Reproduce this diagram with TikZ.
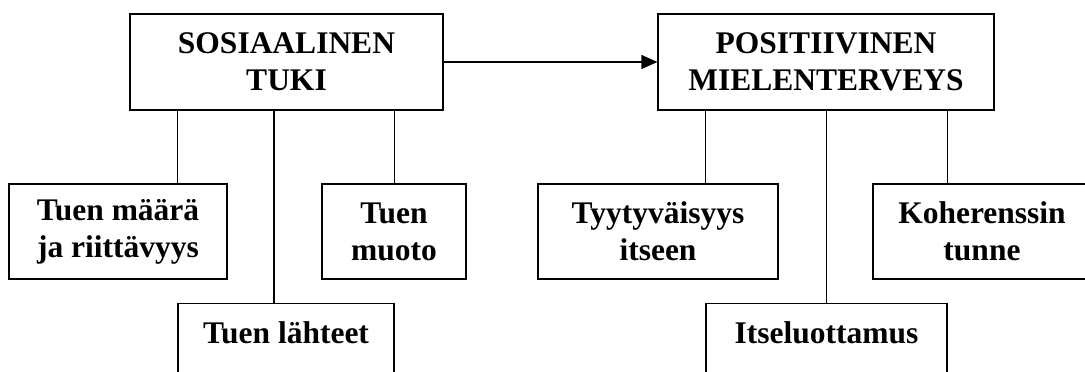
\documentclass[tikz,border=0pt]{standalone}
\usepackage{fontspec}
\setmainfont{Liberation Serif}
\usetikzlibrary{arrows.meta}

\tikzset{
  box/.style={draw, line width=1.2pt, inner sep=0pt, align=center,
    font=\fontsize{31.5}{37}\selectfont\bfseries},
  link/.style={line width=1.2pt},
  leadsto/.style={line width=1.2pt, -{Triangle[length=16pt,width=14pt]}},
  openbox/.style={box, anchor=north, text height=40pt, text depth=60pt}
}

\begin{document}
\begin{tikzpicture}[x=1pt, y=-1pt]
  \useasboundingbox (0,0) rectangle (1085,372);
  \clip (0,0) rectangle (1085,372);

  % main concepts
  \node[box, minimum width=313pt, minimum height=96pt] (sos) at (286.5,62) {SOSIAALINEN\\TUKI};
  \node[box, minimum width=336pt, minimum height=96pt] (pos) at (826,62) {POSITIIVINEN\\MIELENTERVEYS};

  % dimensions of social support
  \node[box, minimum width=218pt, minimum height=95pt] (maara) at (118,231.5) {Tuen määrä\\ja riittävyys};
  \node[box, minimum width=144pt, minimum height=95pt] (muoto) at (394,231.5) {Tuen\\muoto};
  \node[openbox, minimum width=216pt] (lahteet) at (286,303) {Tuen lähteet};

  % dimensions of positive mental health
  \node[box, minimum width=240pt, minimum height=95pt] (tyyt) at (658,231.5) {Tyytyväisyys\\itseen};
  \node[box, minimum width=218pt, minimum height=95pt] (koh) at (982,231.5) {Koherenssin\\tunne};
  \node[openbox, minimum width=241pt] (itse) at (826.5,303) {Itseluottamus};

  % main relation
  \draw[leadsto] (sos.east) -- (pos.west);

  % branches of social support
  \draw[link] (sos.south -| lahteet.west) -- (maara.north -| lahteet.west);
  \draw[link] (sos.south -| lahteet.east) -- (muoto.north -| lahteet.east);
  \draw[link] ([xshift=-12pt]lahteet.north |- sos.south) -- ([xshift=-12pt]lahteet.north);

  % branches of positive mental health
  \draw[link] (pos.south -| itse.west) -- (tyyt.north -| itse.west);
  \draw[link] (pos.south -| itse.east) -- (koh.north -| itse.east);
  \draw[link] (pos.south -| itse.north) -- (itse.north);
\end{tikzpicture}
\end{document}
